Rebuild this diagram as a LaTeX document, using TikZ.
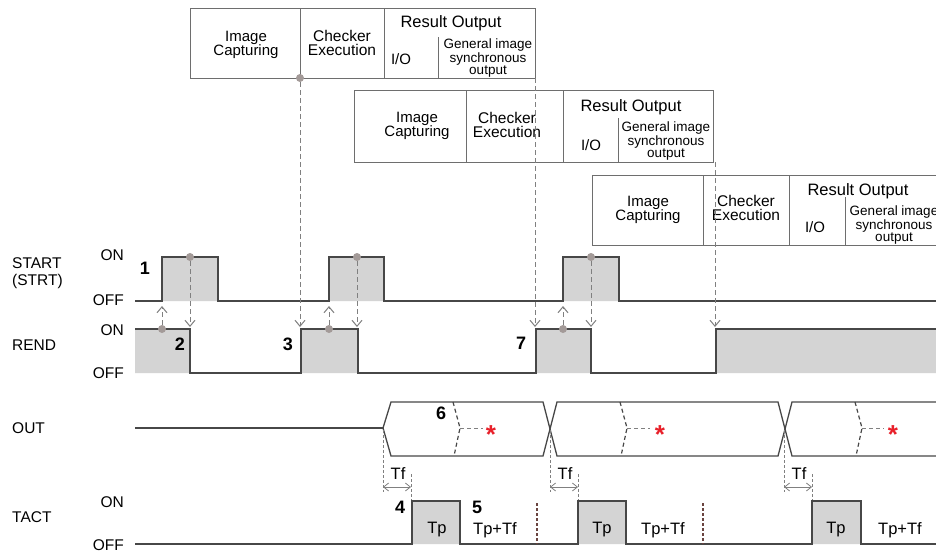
\documentclass[tikz,border=0pt]{standalone}
\usepackage{fontspec}
\setmainfont{Liberation Sans}
\usetikzlibrary{arrows.meta}
\definecolor{sigc}{HTML}{474747}
\definecolor{fillg}{HTML}{D4D4D4}
\definecolor{boxc}{HTML}{6E6E6E}
\definecolor{arrc}{HTML}{808080}
\definecolor{dotc}{HTML}{A39A98}
\definecolor{redc}{HTML}{E8202A}
\definecolor{brn}{HTML}{6A4440}
\begin{document}
\begin{tikzpicture}[x=1pt,y=-1pt,
  sig/.style={draw=sigc,line width=1.5pt,line join=miter},
  bx/.style={draw=boxc,line width=0.9pt},
  darr/.style={draw=arrc,line width=1pt,dash pattern=on 5pt off 3pt,-{Straight Barb[length=6pt,width=10pt,line width=1pt]}},
  dotst/.style={circle,fill=dotc,inner sep=0pt,minimum size=8pt},
  lab/.style={font=\fontsize{15.5}{17}\selectfont,inner sep=0pt},
  tlab/.style={font=\fontsize{16.5}{17}\selectfont,inner sep=0pt},
  num/.style={font=\fontsize{18}{20}\selectfont\bfseries,inner sep=0pt},
  btx/.style={font=\fontsize{15}{14.5}\selectfont,align=center,inner sep=0pt},
  ctx/.style={font=\fontsize{15.5}{14.5}\selectfont,align=center,inner sep=0pt},
  rtx/.style={font=\fontsize{16.5}{17}\selectfont,inner sep=0pt},
  gtx/.style={font=\fontsize{13.5}{12.5}\selectfont,align=center,inner sep=0pt},
  innerd/.style={draw=sigc,line width=1.2pt,dash pattern=on 4pt off 3pt},
  hdash/.style={draw=arrc,line width=1pt,dash pattern=on 4pt off 3pt},
  tfl/.style={draw=arrc,line width=0.7pt,dash pattern=on 3pt off 2pt},
  tfa/.style={draw=arrc,line width=0.8pt,{Straight Barb[length=5pt,width=8pt]}-{Straight Barb[length=5pt,width=8pt]}},
  brd/.style={draw=brn,line width=1.2pt,dash pattern=on 3pt off 2pt},
  ast/.style={font=\fontsize{26}{26}\selectfont\bfseries,text=redc,inner sep=0pt,anchor=base}]
\clip (0,0) rectangle (936,552);
\fill[white] (0,0) rectangle (936,552);

% ---------- boxes ----------
% box 1
\draw[bx] (190,8) rectangle (535,78);
\draw[bx] (300,8) -- (300,78) (384,8) -- (384,78) (438,37) -- (438,78);
\node[btx] (img1) at (246,45) {Image\\Capturing};
\node[ctx] (chk1) at (342,43) {Checker\\Execution};
\node[rtx] (res1) at (451,23) {Result Output};
\node[btx] (io1) at (401,59) {I/O};
\node[gtx] (gen1) at (488,58) {General image\\synchronous\\output};
% box 2
\fill[white] (354,90) rectangle (713,162);
\draw[bx] (354,90) rectangle (713,162);
\draw[bx] (466,90) -- (466,162) (563,90) -- (563,162) (618,118) -- (618,162);
\node[btx] (img2) at (417,126) {Image\\Capturing};
\node[ctx] (chk2) at (507,125) {Checker\\Execution};
\node[rtx] (res2) at (631,107) {Result Output};
\node[btx] (io2) at (591,145) {I/O};
\node[gtx] (gen2) at (666,141) {General image\\synchronous\\output};
% box 3 (runs past the right edge, as in the reference)
\fill[white] (592,175) rectangle (1000,245);
\draw[bx] (592,175) rectangle (1000,245);
\draw[bx] (703,175) -- (703,245) (789,175) -- (789,245) (845,197) -- (845,245);
\node[btx] (img3) at (648,210) {Image\\Capturing};
\node[ctx] (chk3) at (746,208) {Checker\\Execution};
\node[rtx] (res3) at (858,191) {Result Output};
\node[btx] (io3) at (815,227) {I/O};
\node[gtx] (gen3) at (894,225) {General image\\synchronous\\output};

% ---------- left labels ----------
\node[lab,align=left,anchor=west] (startl) at (12,273) {START\\(STRT)};
\node[lab,anchor=west] (rendl) at (12,345) {REND};
\node[lab,anchor=west] (outl) at (12,428) {OUT};
\node[lab,anchor=west] (tactl) at (12,517) {TACT};
\node[lab,anchor=east] (on1) at (124,255) {ON};
\node[lab,anchor=east] (off1) at (124,300) {OFF};
\node[lab,anchor=east] (on2) at (124,330) {ON};
\node[lab,anchor=east] (off2) at (124,373) {OFF};
\node[lab,anchor=east] (on3) at (124,502) {ON};
\node[lab,anchor=east] (off3) at (124,545) {OFF};

% ---------- START ----------
\fill[fillg] (162,257) rectangle (218,301) (329,257) rectangle (384,301) (563,257) rectangle (619,301);
\draw[sig] (135,301) -- (162,301) -- (162,257) -- (218,257) -- (218,301) -- (329,301) -- (329,257) -- (384,257) -- (384,301) -- (563,301) -- (563,257) -- (619,257) -- (619,301) -- (940,301);

% ---------- REND ----------
\fill[fillg] (135,329) rectangle (190,373) (301,329) rectangle (358,373) (536,329) rectangle (591,373) (716,329) rectangle (940,373);
\draw[sig] (135,329) -- (190,329) -- (190,373) -- (301,373) -- (301,329) -- (358,329) -- (358,373) -- (536,373) -- (536,329) -- (591,329) -- (591,373) -- (716,373) -- (716,329) -- (940,329);

% ---------- dots and dashed arrows ----------
\node[dotst] (bd1) at (300,78) {};
\node[dotst] (sd1) at (190,257) {};
\node[dotst] (sd2) at (357,257) {};
\node[dotst] (sd3) at (591,257) {};
\node[dotst] (rd1) at (162,329) {};
\node[dotst] (rd2) at (329,329) {};
\node[dotst] (rd3) at (563,329) {};
\coordinate (bc1) at (535,78);
\coordinate (bc2) at (715,162);
\coordinate (ra1) at (190,327);
\coordinate (ra2) at (300,327);
\coordinate (ra3) at (357,327);
\coordinate (ra4) at (535,327);
\coordinate (ra5) at (591,327);
\coordinate (ra6) at (715,327);
\coordinate (sa1) at (162,306);
\coordinate (sa2) at (329,306);
\coordinate (sa3) at (563,306);
\draw[darr] (sd1) -- (ra1);
\draw[darr] (bd1) -- (ra2);
\draw[darr] (sd2) -- (ra3);
\draw[darr] (bc1) -- (ra4);
\draw[darr] (sd3) -- (ra5);
\draw[darr] (bc2) -- (ra6);
\draw[darr] (rd1) -- (sa1);
\draw[darr] (rd2) -- (sa2);
\draw[darr] (rd3) -- (sa3);

% ---------- numbers ----------
\node[num] (n1) at (145,268) {1};
\node[num] (n2) at (180,344) {2};
\node[num] (n3) at (288,344) {3};
\node[num] (n7) at (521,343) {7};
\node[num] (n6) at (441,413) {6};
\node[num] (n4) at (400,507) {4};
\node[num] (n5) at (477,507) {5};

% ---------- OUT ----------
\draw[sig,line width=1.3pt] (135,428) -- (383,428);
\draw[sig,line width=1.3pt] (383,428) -- (391,402) -- (543,402) -- (557,456) -- (778,456) -- (792,402) -- (940,402);
\draw[sig,line width=1.3pt] (383,428) -- (391,456) -- (543,456) -- (557,402) -- (778,402) -- (792,456) -- (940,456);
\draw[innerd] (453,402) -- (460,428) -- (454,456);
\draw[innerd] (620,402) -- (627,428) -- (621,456);
\draw[innerd] (855,402) -- (862,428) -- (856,456);
\draw[hdash] (460,428) -- (483,428);
\draw[hdash] (627,428) -- (650,428);
\draw[hdash] (862,428) -- (884,428);
\node[ast] (as1) at (491,443) {*};
\node[ast] (as2) at (660,443) {*};
\node[ast] (as3) at (893,443) {*};

% ---------- Tf ----------
\foreach \a/\b/\i in {383/411/1,550/578/2,784/812/3}{
  \coordinate (tfa\i) at (\a,430);
  \coordinate (tfb\i) at (\a,492);
  \coordinate (tfc\i) at (\b,474);
  \coordinate (tfd\i) at (\b,501);
  \coordinate (tfl\i) at (\a,487);
  \coordinate (tfr\i) at (\b,487);
  \draw[tfl] (tfa\i) -- (tfb\i);
  \draw[tfl] (tfc\i) -- (tfd\i);
  \draw[tfa] (tfl\i) -- (tfr\i);
}
\node[tlab] (tf1) at (398,474) {Tf};
\node[tlab] (tf2) at (565,474) {Tf};
\node[tlab] (tf3) at (799,474) {Tf};

% ---------- TACT ----------
\fill[fillg] (412,501) rectangle (460,544) (578,501) rectangle (626,544) (812,501) rectangle (861,544);
\draw[sig] (135,544) -- (412,544) -- (412,501) -- (460,501) -- (460,544) -- (578,544) -- (578,501) -- (626,501) -- (626,544) -- (812,544) -- (812,501) -- (861,501) -- (861,544) -- (940,544);
\draw[brd] (537,503) -- (537,544);
\draw[brd] (703,503) -- (703,544);
\node[tlab] (tp1) at (437,530) {Tp};
\node[tlab] (tp2) at (602,530) {Tp};
\node[tlab] (tp3) at (836,530) {Tp};
\node[tlab] (tt1) at (495,530) {Tp+Tf};
\node[tlab] (tt2) at (663,530) {Tp+Tf};
\node[tlab] (tt3) at (900,530) {Tp+Tf};
\end{tikzpicture}
\end{document}
